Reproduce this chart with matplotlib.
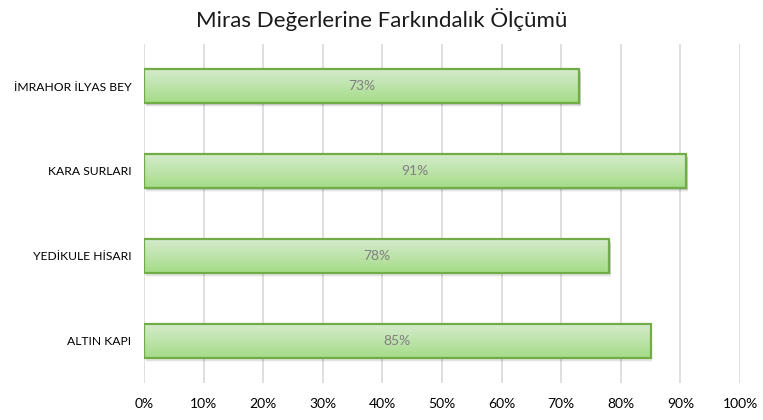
import numpy as np
import matplotlib.pyplot as plt
from matplotlib.colors import LinearSegmentedColormap

plt.rcParams['font.family'] = ['Lato', 'DejaVu Sans']

categories = ["ALTIN KAPI", "YEDİKULE HİSARI", "KARA SURLARI", "İMRAHOR İLYAS BEY"]
values = [85, 78, 91, 73]
ticks = [0, 10, 20, 30, 40, 50, 60, 70, 80, 90, 100]
tick_labels = [f"{t}%" for t in ticks]

GRID = "#d9d9d9"
EDGE = "#70ad47"
LABEL = "#808080"

fig = plt.figure(figsize=(7.63, 4.2), dpi=100)
ax = fig.add_axes([0.1887, 0.088, 0.7813, 0.808])

# light-to-darker green gradient for the bar faces
grad = LinearSegmentedColormap.from_list("bar", ["#d5ebcc", "#a5dc88"])
gimg = np.linspace(0, 1, 64).reshape(-1, 1)

bars = ax.barh(range(len(categories)), values, height=0.4,
               facecolor="none", edgecolor=EDGE, linewidth=1.6, zorder=4)

for i, (b, v) in enumerate(zip(bars, values)):
    x0, y0 = b.get_x(), b.get_y()
    w, h = b.get_width(), b.get_height()
    # soft drop shadow
    for k, a in enumerate([0.10, 0.07, 0.04]):
        off = 0.02 + 0.015 * k
        ax.add_patch(plt.Rectangle((x0 + 0.3, y0 - off), w, h, facecolor="black",
                                   alpha=a, linewidth=0, zorder=2))
    ax.imshow(gimg, cmap=grad, aspect="auto", origin="upper",
              extent=(x0, x0 + w, y0, y0 + h), zorder=3)
    ax.text(v / 2, i, f"{v}%", ha="center", va="center", color=LABEL,
            fontsize=10, zorder=5)

ax.set_xlim(0, 100)
ax.set_ylim(-0.5, 3.5)
ax.set_xticks(ticks)
ax.set_xticklabels(tick_labels)
ax.set_yticks(range(len(categories)))
ax.set_yticklabels(categories)
ax.grid(axis="x", color=GRID, linewidth=1.2, zorder=0)
ax.set_axisbelow(True)
for s in ax.spines.values():
    s.set_visible(False)
ax.tick_params(axis="x", length=0, labelsize=10, colors="#000000", pad=11)
ax.tick_params(axis="y", length=0, labelsize=8.7, colors="#000000", pad=9)

fig.suptitle("Miras Değerlerine Farkındalık Ölçümü", fontsize=16, y=0.98,
             color="#1a1a1a")

fig.savefig("out.png", dpi=100)
